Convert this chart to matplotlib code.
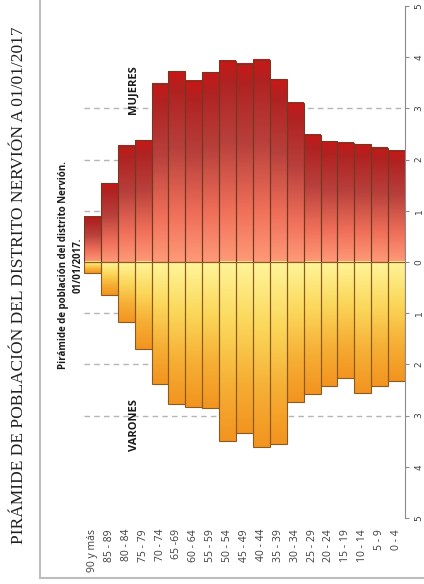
import numpy as np
import matplotlib
matplotlib.use("Agg")
import matplotlib.pyplot as plt
from matplotlib.colors import LinearSegmentedColormap
from matplotlib.lines import Line2D

# ---- data ----
age_groups = ["90 y más", "85 - 89", "80 - 84", "75 - 79", "70 - 74", "65 -69",
              "60 - 64", "55 - 59", "50 - 54", "45 - 49", "40 - 44", "35 - 39",
              "30 - 34", "25 - 29", "20 - 24", "15 - 19", "10 - 14", "5 - 9", "0 - 4"]
mujeres = [0.88, 1.54, 2.27, 2.38, 3.48, 3.73, 3.54, 3.71, 3.93, 3.87, 3.95,
           3.57, 3.11, 2.49, 2.36, 2.33, 2.30, 2.23, 2.17]
varones = [0.22, 0.64, 1.17, 1.70, 2.38, 2.77, 2.83, 2.85, 3.50, 3.34, 3.61,
           3.56, 2.73, 2.58, 2.42, 2.27, 2.56, 2.42, 2.33]
value_ticks = [-5, -4, -3, -2, -1, 0, 1, 2, 3, 4, 5]
grid_levels = [-3, -2, -1, 1, 2, 3]

title = "PIRÁMIDE DE POBLACIÓN DEL DISTRITO NERVIÓN A 01/01/2017"
subtitle = "Pirámide de población del distrito Nervión.\n01/01/2017."

W, H = 424, 584
fig = plt.figure(figsize=(W / 100, H / 100), dpi=100)
fig.patch.set_facecolor("white")

ax = fig.add_axes([84 / W, (H - 518) / H, (405 - 84) / W, (518 - 6) / H])
ax.set_facecolor("none")

cm_muj = LinearSegmentedColormap.from_list(
    "muj", [(0.0, "#ff9a78"), (0.25, "#f0705a"), (0.6, "#b8403c"), (0.9, "#b02222"), (1.0, "#c81818")])
cm_var = LinearSegmentedColormap.from_list(
    "var", [(0.0, "#fff59a"), (0.35, "#fbd75a"), (0.7, "#f6ae34"), (1.0, "#f29420")])

n = len(age_groups)
xs = np.arange(n)
bw = 1.0
grad = np.linspace(0, 1, 128).reshape(-1, 1)

for x, m, v in zip(xs, mujeres, varones):
    ax.imshow(grad, cmap=cm_muj, origin="lower", aspect="auto",
              extent=(x - bw / 2, x + bw / 2, 0, m), zorder=2, interpolation="bilinear")
    ax.imshow(grad, cmap=cm_var, origin="upper", aspect="auto",
              extent=(x - bw / 2, x + bw / 2, -v, 0), zorder=2, interpolation="bilinear")

ax.bar(xs, mujeres, width=bw, facecolor="none", edgecolor="#6e3a22", linewidth=0.8, zorder=3)
ax.bar(xs, [-v for v in varones], width=bw, facecolor="none", edgecolor="#8a5a20", linewidth=0.8, zorder=3)

for g in grid_levels:
    ax.axhline(g, color="#b5b5b5", linestyle=(0, (4, 3)), linewidth=1.0, zorder=1)

ax.set_xlim(-0.5, n - 0.5)
ax.set_ylim(-5, 5)

for s in ["left", "top", "bottom"]:
    ax.spines[s].set_visible(False)
ax.spines["right"].set_color("#8c8c8c")
ax.spines["right"].set_linewidth(0.8)
ax.yaxis.tick_right()
ax.set_yticks(value_ticks)
ax.set_yticklabels([str(abs(t)) for t in value_ticks], rotation=90, va="center",
                   fontsize=6.5, color="#404040", family="DejaVu Sans")
ax.tick_params(axis="y", direction="out", length=3, color="#8c8c8c", pad=4)
ax.set_xticks(xs)
ax.set_xticklabels(age_groups, rotation=90, ha="center", va="top",
                   fontsize=7.5, color="#3c3c3c", family="Open Sans")
ax.tick_params(axis="x", length=0, pad=8)

# labels inside
ax.text(2.4, 3.36, "MUJERES", rotation=90, ha="center", va="center",
        fontsize=8, fontweight="bold", family="Open Sans", color="#1a1a1a")
ax.text(2.5, -3.18, "VARONES", rotation=90, ha="center", va="center",
        fontsize=8, fontweight="bold", family="Open Sans", color="#1a1a1a")

fig.text(71 / W, (H - 265) / H, subtitle, rotation=90, ha="center", va="center",
         fontsize=7, fontweight="bold", family="Open Sans", color="#1a1a1a",
         multialignment="center", linespacing=1.5)

fig.text(19 / W, (H - 285) / H, title, rotation=90, ha="center", va="center",
         fontsize=12.5, family="Liberation Serif", color="#202020")

# frame lines
fig.add_artist(Line2D([40 / W, 40 / W], [(H - 578) / H, 1.0], color="#bdbdbd", linewidth=1.5))
fig.add_artist(Line2D([40 / W, 1.0], [(H - 578) / H, (H - 578) / H], color="#bdbdbd", linewidth=1.5))

fig.savefig("out.png", dpi=100)
